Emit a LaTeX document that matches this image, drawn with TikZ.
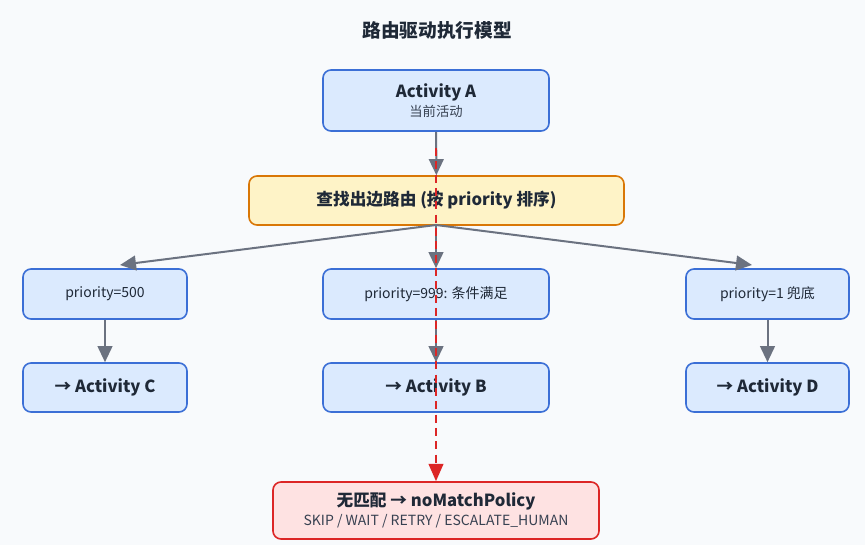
\documentclass[tikz,border=0pt]{standalone}
\usepackage{fontspec}
\setmainfont{Noto Sans CJK SC}
\usetikzlibrary{arrows.meta,positioning}
\definecolor{bgc}{HTML}{F8FAFC}
\definecolor{bluefill}{HTML}{DBEAFE}
\definecolor{blueline}{HTML}{3B6FD6}
\definecolor{orgfill}{HTML}{FEF3C7}
\definecolor{orgline}{HTML}{D97706}
\definecolor{redfill}{HTML}{FEE2E2}
\definecolor{redline}{HTML}{DC2626}
\definecolor{grayarr}{HTML}{6B7280}
\definecolor{txt}{HTML}{1F2937}
\definecolor{subtxt}{HTML}{374151}
\newcommand{\bigbf}{\fontsize{12.5}{15}\selectfont\bfseries}
\newcommand{\subt}{\fontsize{10}{12}\selectfont\color{subtxt}}
\newcommand{\prt}{\fontsize{10.5}{12}\selectfont\color{subtxt}}
\tikzset{
  box/.style={draw=blueline,fill=bluefill,line width=1.2pt,rounded corners=6pt,
    align=center,text=txt},
  flow/.style={draw=grayarr,line width=1.5pt,-{Triangle[length=12pt,width=11pt]}},
}
\begin{document}
\begin{tikzpicture}[x=0.75pt,y=-0.75pt]
	\fill[bgc] (0,0) rectangle (865,545);
	\useasboundingbox (0,0) rectangle (865,545);
	\node[font=\fontsize{14}{16}\selectfont\bfseries,text=txt] (title) at (437,30) {路由驱动执行模型};
	
	\node[box,minimum width=226*0.75pt,minimum height=61*0.75pt] (actA) at (436,100.5)
		{{\bigbf Activity A}\\[2pt]{\subt 当前活动}};
	\node[box,draw=orgline,fill=orgfill,minimum width=375*0.75pt,minimum height=49*0.75pt,font=\bigbf] (find) at (436.5,200.5)
		{查找出边路由 (按 priority 排序)};
	
	\node[box,minimum width=164*0.75pt,minimum height=50*0.75pt,font=\prt] (p500) at (105,294) {priority=500};
	\node[box,minimum width=226*0.75pt,minimum height=50*0.75pt,font=\prt] (p999) at (436,294) {priority=999: 条件满足};
	\node[box,minimum width=163*0.75pt,minimum height=50*0.75pt,font=\prt] (p1) at (767.5,294) {priority=1 兜底};
	
	\node[box,minimum width=164*0.75pt,minimum height=49*0.75pt,font=\bigbf] (actC) at (105,387.5) {→ Activity C};
	\node[box,minimum width=226*0.75pt,minimum height=49*0.75pt,font=\bigbf] (actB) at (436,387.5) {→ Activity B};
	\node[box,minimum width=163*0.75pt,minimum height=49*0.75pt,font=\bigbf] (actD) at (767.5,387.5) {→ Activity D};
	
	\node[box,draw=redline,fill=redfill,minimum width=326*0.75pt,minimum height=57*0.75pt] (nomatch) at (436,510.5)
		{{\bigbf 无匹配 → noMatchPolicy}\\[2pt]{\prt SKIP / WAIT / RETRY / ESCALATE\_HUMAN}};
	
	\coordinate (split) at (436,225);
	\coordinate (redstart) at (436,148);
	
	\draw[flow] (actA) -- (find);
	\draw[flow] (split) -- (120,265);
	\draw[flow] (split) -- (p999.north);
	\draw[flow] (split) -- (752,265);
	\draw[flow] (p500) -- (actC);
	\draw[flow] (p999) -- (actB);
	\draw[flow] (p1) -- (actD);
	
	\draw[draw=redline,line width=1.5pt,dash pattern=on 6pt off 4pt,
		-{Triangle[length=13pt,width=11pt]}] (redstart) -- (nomatch.north);
\end{tikzpicture}
\end{document}
